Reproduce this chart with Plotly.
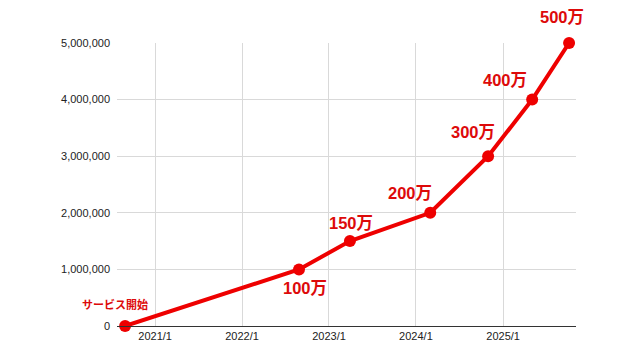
import plotly.graph_objects as go

dates = ["2020-08-28", "2022-08-28", "2023-03-30", "2024-03-01", "2024-10-30", "2025-05-03", "2025-10-05"]
users = [0, 1000000, 1500000, 2000000, 3000000, 4000000, 5000000]
labels = ["サービス開始", "100万", "150万", "200万", "300万", "400万", "500万"]
label_dx = [-10, 6, 1, -20, -15, -27, -7]
label_dy = [22, -19, 18, 20, 24, 20, 26]
label_size = [11, 16.5, 16.5, 16.5, 16.5, 16.5, 16.5]

x_ticks = ["2021-01-01", "2022-01-01", "2023-01-01", "2024-01-01", "2025-01-01"]
x_ticktext = ["2021/1", "2022/1", "2023/1", "2024/1", "2025/1"]
y_ticks = [0, 1000000, 2000000, 3000000, 4000000, 5000000]

RED = "#ee0000"
LABEL_RED = "#dd0a0a"

fig = go.Figure()
fig.add_trace(go.Scatter(
    x=dates, y=users, mode="lines+markers",
    line=dict(color=RED, width=4),
    marker=dict(color=RED, size=12),
    cliponaxis=False, showlegend=False,
))

for d, v, t, dx, dy, fs in zip(dates, users, labels, label_dx, label_dy, label_size):
    fig.add_annotation(
        x=d, y=v, text=f"<b>{t}</b>", showarrow=False,
        xshift=dx, yshift=dy,
        font=dict(family="Liberation Sans, Arial, Noto Sans CJK JP", size=fs, color=LABEL_RED),
    )

fig.update_layout(
    width=640, height=360,
    margin=dict(l=117, r=64, t=43, b=34),
    paper_bgcolor="white", plot_bgcolor="white",
    font=dict(family="Liberation Sans, Arial", size=11, color="#222222"),
)
fig.update_xaxes(
    type="date", range=["2020-07-25", "2025-11-03"],
    tickvals=x_ticks, ticktext=x_ticktext,
    showgrid=True, gridcolor="#d9d9d9", gridwidth=1,
    showline=True, linecolor="#333333", linewidth=1,
    ticks="", zeroline=False,
)
fig.update_yaxes(
    range=[0, 5000000], tickvals=y_ticks, tickformat=",d",
    showgrid=True, gridcolor="#d9d9d9", gridwidth=1,
    zeroline=False, showline=False, ticks="", ticklabelstandoff=6,
)

fig.write_html("out.html")
